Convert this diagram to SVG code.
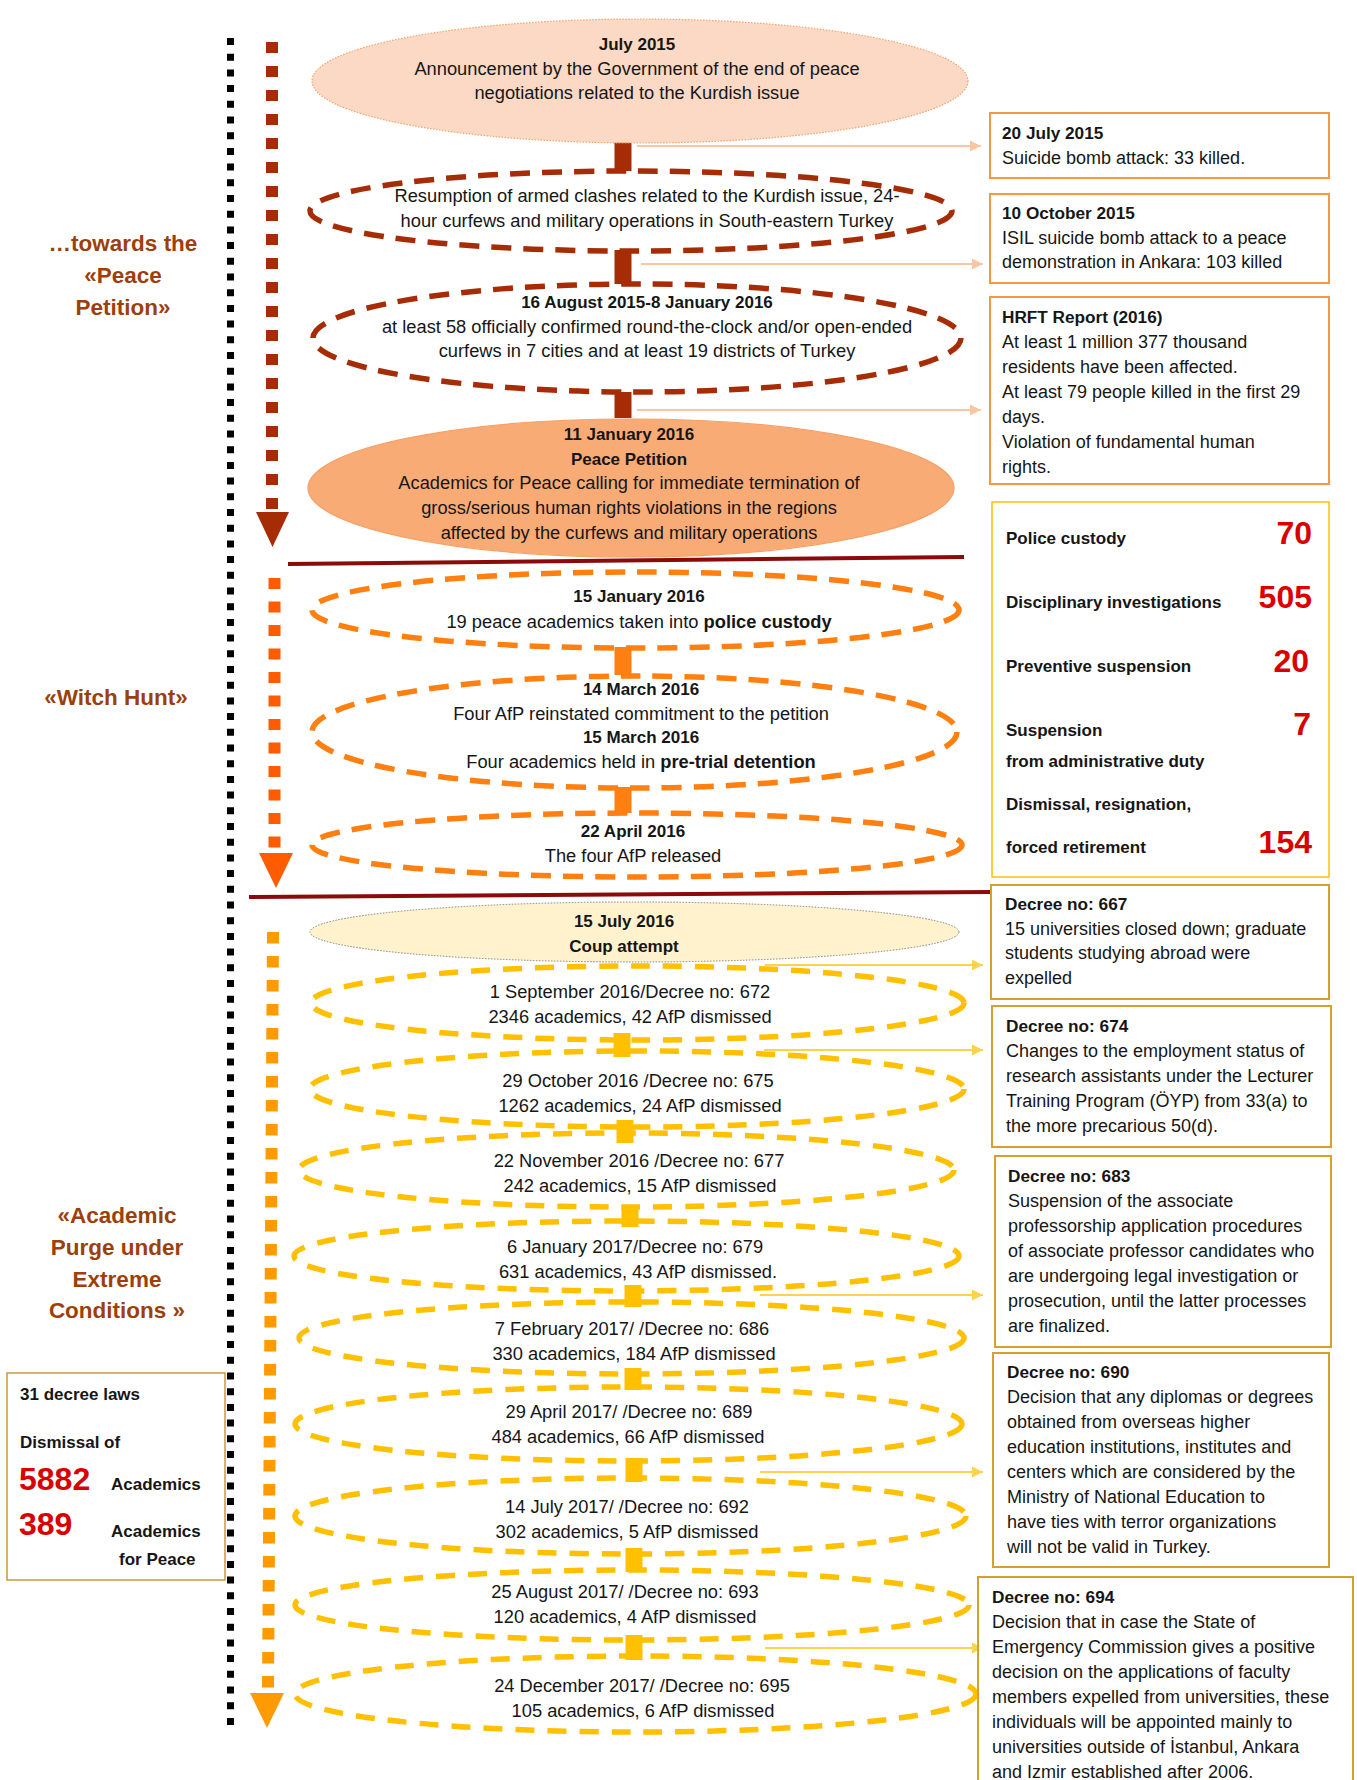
<svg xmlns="http://www.w3.org/2000/svg" width="1357" height="1780" viewBox="0 0 1357 1780">
<defs>
<style>
text{font-family:"Liberation Sans",Arial,sans-serif;fill:#161616}
.c{font-size:18.3px;text-anchor:middle}
.cb{font-size:17px;font-weight:bold;text-anchor:middle}
.r{font-size:18px}
.rb{font-size:17.2px;font-weight:bold}
.sl{font-size:17px;font-weight:bold}
.big{font-size:32px;font-weight:bold;fill:#D90000}
.lab{font-size:22.5px;font-weight:bold;fill:#9C3F0B;text-anchor:middle}
.dr{fill:none;stroke:#A62C05;stroke-width:5.5;stroke-dasharray:20 12}
.or{fill:none;stroke:#FF8010;stroke-width:5.5;stroke-dasharray:20 12}
.ye{fill:none;stroke:#FFC000;stroke-width:5.5;stroke-dasharray:19 13}
.boxo{fill:#fff;stroke:#F79646;stroke-width:2}
.boxg{fill:#fff;stroke:#D6A02C;stroke-width:2}
.pa{stroke:#FAC6A2;stroke-width:2;fill:none}
.ya{stroke:#FFD24D;stroke-width:2;fill:none}
</style>
<marker id="mp" viewBox="0 0 10 10" refX="10" refY="5" markerWidth="11" markerHeight="11" markerUnits="userSpaceOnUse" orient="auto"><path d="M0,0 L10,5 L0,10 z" fill="#FAC6A2"/></marker>
<marker id="my" viewBox="0 0 10 10" refX="10" refY="5" markerWidth="11" markerHeight="11" markerUnits="userSpaceOnUse" orient="auto"><path d="M0,0 L10,5 L0,10 z" fill="#FFD24D"/></marker>
</defs>
<rect width="1357" height="1780" fill="#fff"/>

<g id="phase-labels">
<text class="lab" x="123" y="251">…towards the</text>
<text class="lab" x="123" y="283">«Peace</text>
<text class="lab" x="123" y="315">Petition»</text>
<text class="lab" x="116" y="705">«Witch Hunt»</text>
<text class="lab" x="117" y="1223">«Academic</text>
<text class="lab" x="117" y="1255">Purge under</text>
<text class="lab" x="117" y="1287">Extreme</text>
<text class="lab" x="117" y="1318">Conditions »</text>
</g>

<g id="connectors">
<line x1="230.5" y1="38" x2="230.5" y2="1728" stroke="#000" stroke-width="7" stroke-dasharray="7 8.7"/>
<line x1="272" y1="42" x2="272" y2="510" stroke="#A62C05" stroke-width="12" stroke-dasharray="11 13"/>
<polygon points="256,512 289,512 272.5,547" fill="#A62C05"/>
<line x1="274.5" y1="578" x2="274.5" y2="852" stroke="#FF5B00" stroke-width="12" stroke-dasharray="11 12.5"/>
<polygon points="259,853 293,853 276,888" fill="#FF5B00"/>
<line x1="273" y1="932" x2="268" y2="1690" stroke="#FF9A00" stroke-width="12" stroke-dasharray="11.5 12.5"/>
<polygon points="250,1693 284,1693 267,1728" fill="#FF9A00"/>

<g stroke-width="17">
<line x1="623" y1="142" x2="623" y2="171" stroke="#A62C05"/>
<line x1="623" y1="250" x2="623" y2="284" stroke="#A62C05"/>
<line x1="623" y1="392" x2="623" y2="418" stroke="#A62C05"/>
<line x1="623" y1="647" x2="623" y2="675" stroke="#FF8010"/>
<line x1="623" y1="787" x2="623" y2="813" stroke="#FF8010"/>
<line x1="622" y1="1033" x2="622" y2="1057" stroke="#FFC000"/>
<line x1="625" y1="1120" x2="625" y2="1143" stroke="#FFC000"/>
<line x1="630" y1="1205" x2="630" y2="1227" stroke="#FFC000"/>
<line x1="633" y1="1285" x2="633" y2="1307" stroke="#FFC000"/>
<line x1="633" y1="1368" x2="633" y2="1390" stroke="#FFC000"/>
<line x1="634" y1="1458" x2="634" y2="1482" stroke="#FFC000"/>
<line x1="634" y1="1548" x2="634" y2="1572" stroke="#FFC000"/>
<line x1="634" y1="1635" x2="634" y2="1660" stroke="#FFC000"/>
</g>

<line class="pa" x1="637" y1="146" x2="981" y2="146" marker-end="url(#mp)"/>
<line class="pa" x1="641" y1="264" x2="983" y2="264" marker-end="url(#mp)"/>
<line class="pa" x1="637" y1="410" x2="981" y2="410" marker-end="url(#mp)"/>
<line class="ya" x1="765" y1="965" x2="983" y2="965" marker-end="url(#my)"/>
<line class="ya" x1="764" y1="1050" x2="983" y2="1050" marker-end="url(#my)"/>
<line class="ya" x1="760" y1="1295" x2="983" y2="1295" marker-end="url(#my)"/>
<line class="ya" x1="760" y1="1472" x2="983" y2="1472" marker-end="url(#my)"/>
<line class="ya" x1="765" y1="1648" x2="983" y2="1648" marker-end="url(#my)"/>
</g>

<g id="dividers">
<line x1="288" y1="564" x2="964" y2="557" stroke="#8B0A0A" stroke-width="4"/>
<line x1="249" y1="897" x2="990" y2="892" stroke="#8B0A0A" stroke-width="4"/>
</g>

<g id="e1">
<ellipse cx="640" cy="81" rx="328" ry="62" fill="#FCD9C4" stroke="#F5A36A" stroke-width="1.2" stroke-dasharray="1.5 1.5"/>
<text class="cb" x="637" y="50">July 2015</text>
<text class="c" x="637" y="75">Announcement by the Government of the end of peace</text>
<text class="c" x="637" y="99">negotiations related to the Kurdish issue</text>
</g>
<g id="e2">
<ellipse class="dr" cx="631" cy="211" rx="321" ry="40"/>
<text class="c" x="647" y="202">Resumption of armed clashes related to the Kurdish issue, 24-</text>
<text class="c" x="647" y="227">hour curfews and military operations in South-eastern Turkey</text>
</g>
<g id="e3">
<ellipse class="dr" cx="637" cy="338" rx="324" ry="54"/>
<text class="cb" x="647" y="308">16 August 2015-8 January 2016</text>
<text class="c" x="647" y="333">at least 58 officially confirmed round-the-clock and/or open-ended</text>
<text class="c" x="647" y="357">curfews in 7 cities and at least 19 districts of Turkey</text>
</g>
<g id="e4">
<ellipse cx="631" cy="488" rx="323" ry="69" fill="#F9AB76" stroke="#F6A064" stroke-width="1.2"/>
<text class="cb" x="629" y="440">11 January 2016</text>
<text class="cb" x="629" y="465">Peace Petition</text>
<text class="c" x="629" y="489">Academics for Peace calling for immediate termination of</text>
<text class="c" x="629" y="514">gross/serious human rights violations in the regions</text>
<text class="c" x="629" y="539">affected by the curfews and military operations</text>
</g>

<g id="e5">
<ellipse class="or" cx="635.5" cy="610" rx="323.5" ry="38"/>
<text class="cb" x="639" y="602">15 January 2016</text>
<text class="c" x="639" y="628">19 peace academics taken into <tspan font-weight="bold">police custody</tspan></text>
</g>
<g id="e6">
<ellipse class="or" cx="634.5" cy="732" rx="322.5" ry="56"/>
<text class="cb" x="641" y="695">14 March 2016</text>
<text class="c" x="641" y="720">Four AfP reinstated commitment to the petition</text>
<text class="cb" x="641" y="743">15 March 2016</text>
<text class="c" x="641" y="768">Four academics held in <tspan font-weight="bold">pre-trial detention</tspan></text>
</g>
<g id="e7">
<ellipse class="or" cx="637" cy="845" rx="325" ry="32"/>
<text class="cb" x="633" y="837">22 April 2016</text>
<text class="c" x="633" y="862">The four AfP released</text>
</g>

<g id="coup">
<ellipse cx="634.5" cy="932" rx="324.5" ry="30" fill="#FFF2CC" stroke="#808080" stroke-width="1" stroke-dasharray="1.5 1.5"/>
<text class="cb" x="624" y="927">15 July 2016</text>
<text class="cb" x="624" y="952">Coup attempt</text>
</g>
<g id="e8">
<ellipse class="ye" cx="637.5" cy="1003" rx="326.5" ry="37"/>
<text class="c" x="630" y="998">1 September 2016/Decree no: 672</text>
<text class="c" x="630" y="1023">2346 academics, 42 AfP dismissed</text>
</g>
<g id="e9">
<ellipse class="ye" cx="637" cy="1089" rx="327" ry="38"/>
<text class="c" x="638" y="1087">29 October 2016 /Decree no: 675</text>
<text class="c" x="640" y="1112">1262 academics, 24 AfP dismissed</text>
</g>
<g id="e10">
<ellipse class="ye" cx="626.5" cy="1170" rx="327.5" ry="37"/>
<text class="c" x="639" y="1167">22 November 2016 /Decree no: 677</text>
<text class="c" x="640" y="1192">242 academics, 15 AfP dismissed</text>
</g>
<g id="e11">
<ellipse class="ye" cx="626.5" cy="1256" rx="332.5" ry="35"/>
<text class="c" x="635" y="1253">6 January 2017/Decree no: 679</text>
<text class="c" x="638" y="1278">631 academics, 43 AfP dismissed.</text>
</g>
<g id="e12">
<ellipse class="ye" cx="631.5" cy="1338" rx="332.5" ry="36"/>
<text class="c" x="632" y="1335">7 February 2017/ /Decree no: 686</text>
<text class="c" x="634" y="1360">330 academics, 184 AfP dismissed</text>
</g>
<g id="e13">
<ellipse class="ye" cx="628.5" cy="1424" rx="333.5" ry="37"/>
<text class="c" x="629" y="1418">29 April 2017/ /Decree no: 689</text>
<text class="c" x="628" y="1443">484 academics, 66 AfP dismissed</text>
</g>
<g id="e14">
<ellipse class="ye" cx="630.5" cy="1516" rx="335.5" ry="38"/>
<text class="c" x="627" y="1513">14 July 2017/ /Decree no: 692</text>
<text class="c" x="627" y="1538">302 academics, 5 AfP dismissed</text>
</g>
<g id="e15">
<ellipse class="ye" cx="632" cy="1605" rx="337" ry="35"/>
<text class="c" x="625" y="1598">25 August 2017/ /Decree no: 693</text>
<text class="c" x="625" y="1623">120 academics, 4 AfP dismissed</text>
</g>
<g id="e16">
<ellipse class="ye" cx="635.5" cy="1694" rx="340.5" ry="38"/>
<text class="c" x="642" y="1692">24 December 2017/ /Decree no: 695</text>
<text class="c" x="643" y="1717">105 academics, 6 AfP dismissed</text>
</g>

<g id="box-20july">
<rect class="boxo" x="990" y="113" width="339" height="65"/>
<text class="rb" x="1002" y="139">20 July 2015</text>
<text class="r" x="1002" y="164">Suicide bomb attack: 33 killed.</text>
</g>
<g id="box-10oct">
<rect class="boxo" x="990" y="194" width="339" height="89"/>
<text class="rb" x="1002" y="219">10 October 2015</text>
<text class="r" x="1002" y="244">ISIL suicide bomb attack to a peace</text>
<text class="r" x="1002" y="268">demonstration in Ankara: 103 killed</text>
</g>
<g id="box-hrft">
<rect class="boxo" x="990" y="297" width="339" height="187"/>
<text class="rb" x="1002" y="323">HRFT Report (2016)</text>
<text class="r" x="1002" y="348">At least 1 million 377 thousand</text>
<text class="r" x="1002" y="373">residents have been affected.</text>
<text class="r" x="1002" y="398">At least 79 people killed in the first 29</text>
<text class="r" x="1002" y="423">days.</text>
<text class="r" x="1002" y="448">Violation of fundamental human</text>
<text class="r" x="1002" y="473">rights.</text>
</g>
<g id="box-stats">
<rect x="992" y="502" width="337" height="375" fill="#fff" stroke="#FFC000" stroke-width="1.5"/>
<text class="sl" x="1006" y="544">Police custody</text>
<text class="big" x="1312" y="544" text-anchor="end">70</text>
<text class="sl" x="1006" y="608">Disciplinary investigations</text>
<text class="big" x="1312" y="608" text-anchor="end">505</text>
<text class="sl" x="1006" y="672">Preventive suspension</text>
<text class="big" x="1309" y="672" text-anchor="end">20</text>
<text class="sl" x="1006" y="736">Suspension</text>
<text class="big" x="1311" y="735" text-anchor="end">7</text>
<text class="sl" x="1006" y="767">from administrative duty</text>
<text class="sl" x="1006" y="810">Dismissal, resignation,</text>
<text class="sl" x="1006" y="853">forced retirement</text>
<text class="big" x="1312" y="853" text-anchor="end">154</text>
</g>
<g id="box-667">
<rect class="boxg" x="991" y="885" width="338" height="114"/>
<text class="rb" x="1005" y="910">Decree no: 667</text>
<text class="r" x="1005" y="935">15 universities closed down; graduate</text>
<text class="r" x="1005" y="959">students studying abroad were</text>
<text class="r" x="1005" y="984">expelled</text>
</g>
<g id="box-674">
<rect class="boxg" x="992" y="1006" width="339" height="141"/>
<text class="rb" x="1006" y="1032">Decree no: 674</text>
<text class="r" x="1006" y="1057">Changes to the employment status of</text>
<text class="r" x="1006" y="1082">research assistants under the Lecturer</text>
<text class="r" x="1006" y="1107">Training Program (ÖYP) from 33(a) to</text>
<text class="r" x="1006" y="1132">the more precarious 50(d).</text>
</g>
<g id="box-683">
<rect class="boxg" x="995" y="1156" width="336" height="191"/>
<text class="rb" x="1008" y="1182">Decree no: 683</text>
<text class="r" x="1008" y="1207">Suspension of the associate</text>
<text class="r" x="1008" y="1232">professorship application procedures</text>
<text class="r" x="1008" y="1257">of associate professor candidates who</text>
<text class="r" x="1008" y="1282">are undergoing legal investigation or</text>
<text class="r" x="1008" y="1307">prosecution, until the latter processes</text>
<text class="r" x="1008" y="1332">are finalized.</text>
</g>
<g id="box-690">
<rect class="boxg" x="993" y="1353" width="336" height="214"/>
<text class="rb" x="1007" y="1378">Decree no: 690</text>
<text class="r" x="1007" y="1403">Decision that any diplomas or degrees</text>
<text class="r" x="1007" y="1428">obtained from overseas higher</text>
<text class="r" x="1007" y="1453">education institutions, institutes and</text>
<text class="r" x="1007" y="1478">centers which are considered by the</text>
<text class="r" x="1007" y="1503">Ministry of National Education to</text>
<text class="r" x="1007" y="1528">have ties with terror organizations</text>
<text class="r" x="1007" y="1553">will not be valid in Turkey.</text>
</g>
<g id="box-694">
<rect class="boxg" x="978" y="1577" width="375" height="215"/>
<text class="rb" x="992" y="1603">Decree no: 694</text>
<text class="r" x="992" y="1628">Decision that in case the State of</text>
<text class="r" x="992" y="1653">Emergency Commission gives a positive</text>
<text class="r" x="992" y="1678">decision on the applications of faculty</text>
<text class="r" x="992" y="1703">members expelled from universities, these</text>
<text class="r" x="992" y="1728">individuals will be appointed mainly to</text>
<text class="r" x="992" y="1753">universities outside of İstanbul, Ankara</text>
<text class="r" x="992" y="1778">and Izmir established after 2006.</text>
</g>
<g id="box-summary">
<rect x="7" y="1373" width="218" height="207" fill="#fff" stroke="#CC9933" stroke-width="1.5"/>
<text class="sl" x="20" y="1400">31 decree laws</text>
<text class="sl" x="20" y="1448">Dismissal of</text>
<text class="big" x="19" y="1490">5882</text>
<text class="sl" x="111" y="1490">Academics</text>
<text class="big" x="19" y="1535">389</text>
<text class="sl" x="111" y="1537">Academics</text>
<text class="sl" x="119" y="1565">for Peace</text>
</g>
</svg>
